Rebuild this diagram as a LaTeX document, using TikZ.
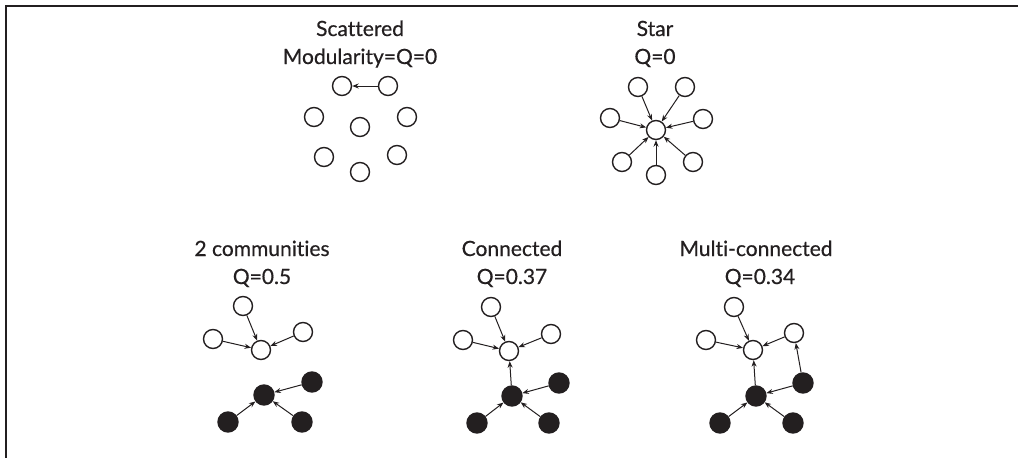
\documentclass[tikz,border=0pt]{standalone}
\usepackage{fontspec}
\setmainfont{Lato}[Ligatures={NoCommon},FakeBold=0.5]
\usetikzlibrary{arrows.meta}
\definecolor{ink}{RGB}{35,31,32}
\begin{document}
\begin{tikzpicture}[x=1pt,y=-1pt,
  wnode/.style={circle,draw=ink,line width=1.4pt,minimum size=19pt,inner sep=0pt,fill=white},
  bnode/.style={wnode,fill=ink,minimum size=20pt},
  edge/.style={draw=ink,line width=1pt,-{Stealth[length=6.5pt,width=5pt]}},
  lab/.style={anchor=base,font=\fontsize{21}{25}\selectfont,inner sep=0pt,text=ink}]
\useasboundingbox (0,0) rectangle (1018,458);
\draw[line width=2pt,ink] (1018,6) -- (6,6) -- (6,458);

% Scattered
\node[lab] (t1a) at (360,36) {Scattered};
\node[lab] (t1b) at (360,64) {Modularity=Q=0};
\node[wnode] (s1) at (342,86) {};
\node[wnode] (s2) at (388,86) {};
\node[wnode] (s3) at (314,117) {};
\node[wnode] (s4) at (407,117) {};
\node[wnode] (s5) at (360,127) {};
\node[wnode] (s6) at (324,157) {};
\node[wnode] (s7) at (397,155) {};
\node[wnode] (s8) at (360,172) {};
\draw[edge] (s2) -- (s1);

% Star
\node[lab] (t2a) at (655,36) {Star};
\node[lab] (t2b) at (655,64) {Q=0};
\node[wnode] (c) at (656,130) {};
\node[wnode] (a1) at (638,87) {};
\node[wnode] (a2) at (685,87) {};
\node[wnode] (a3) at (610,118) {};
\node[wnode] (a4) at (703,119) {};
\node[wnode] (a5) at (622,162) {};
\node[wnode] (a6) at (656,175) {};
\node[wnode] (a7) at (693,162) {};
\foreach \n in {a1,a2,a3,a4,a5,a6,a7} \draw[edge] (\n) -- (c);

% 2 communities
\node[lab] (t3a) at (262,256) {2 communities};
\node[lab] (t3b) at (262,284) {Q=0.5};
\node[wnode] (p1) at (243,306) {};
\node[wnode] (p2) at (213,339) {};
\node[wnode] (pc) at (261,350) {};
\node[wnode] (p3) at (303,332) {};
\node[bnode] (qc) at (264,395) {};
\node[bnode] (q1) at (312,382) {};
\node[bnode] (q2) at (228,422) {};
\node[bnode] (q3) at (302,422) {};
\draw[edge] (p1) -- (pc);
\draw[edge] (p2) -- (pc);
\draw[edge] (p3) -- (pc);
\draw[edge] (q1) -- (qc);
\draw[edge] (q2) -- (qc);
\draw[edge] (q3) -- (qc);

% Connected
\node[lab] (t4a) at (512,256) {Connected};
\node[lab] (t4b) at (512,284) {Q=0.37};
\node[wnode] (r1) at (491,307) {};
\node[wnode] (r2) at (463,340) {};
\node[wnode] (rc) at (509,351) {};
\node[wnode] (r3) at (551,334) {};
\node[bnode] (uc) at (512,396) {};
\node[bnode] (u1) at (559,383) {};
\node[bnode] (u2) at (477,423) {};
\node[bnode] (u3) at (549,423) {};
\draw[edge] (r1) -- (rc);
\draw[edge] (r2) -- (rc);
\draw[edge] (r3) -- (rc);
\draw[edge] (uc) -- (rc);
\draw[edge] (u1) -- (uc);
\draw[edge] (u2) -- (uc);
\draw[edge] (u3) -- (uc);

% Multi-connected
\node[lab] (t5a) at (756,256) {Multi-connected};
\node[lab] (t5b) at (760,284) {Q=0.34};
\node[wnode] (m1) at (734,307) {};
\node[wnode] (m2) at (706,340) {};
\node[wnode] (mc) at (753,350) {};
\node[wnode] (m3) at (794,333) {};
\node[bnode] (nc) at (756,396) {};
\node[bnode] (n1) at (803,383) {};
\node[bnode] (n2) at (720,423) {};
\node[bnode] (n3) at (793,423) {};
\draw[edge] (m1) -- (mc);
\draw[edge] (m2) -- (mc);
\draw[edge] (m3) -- (mc);
\draw[edge] (nc) -- (mc);
\draw[edge] (n1) -- (m3);
\draw[edge] (n1) -- (nc);
\draw[edge] (n2) -- (nc);
\draw[edge] (n3) -- (nc);
\end{tikzpicture}
\end{document}
